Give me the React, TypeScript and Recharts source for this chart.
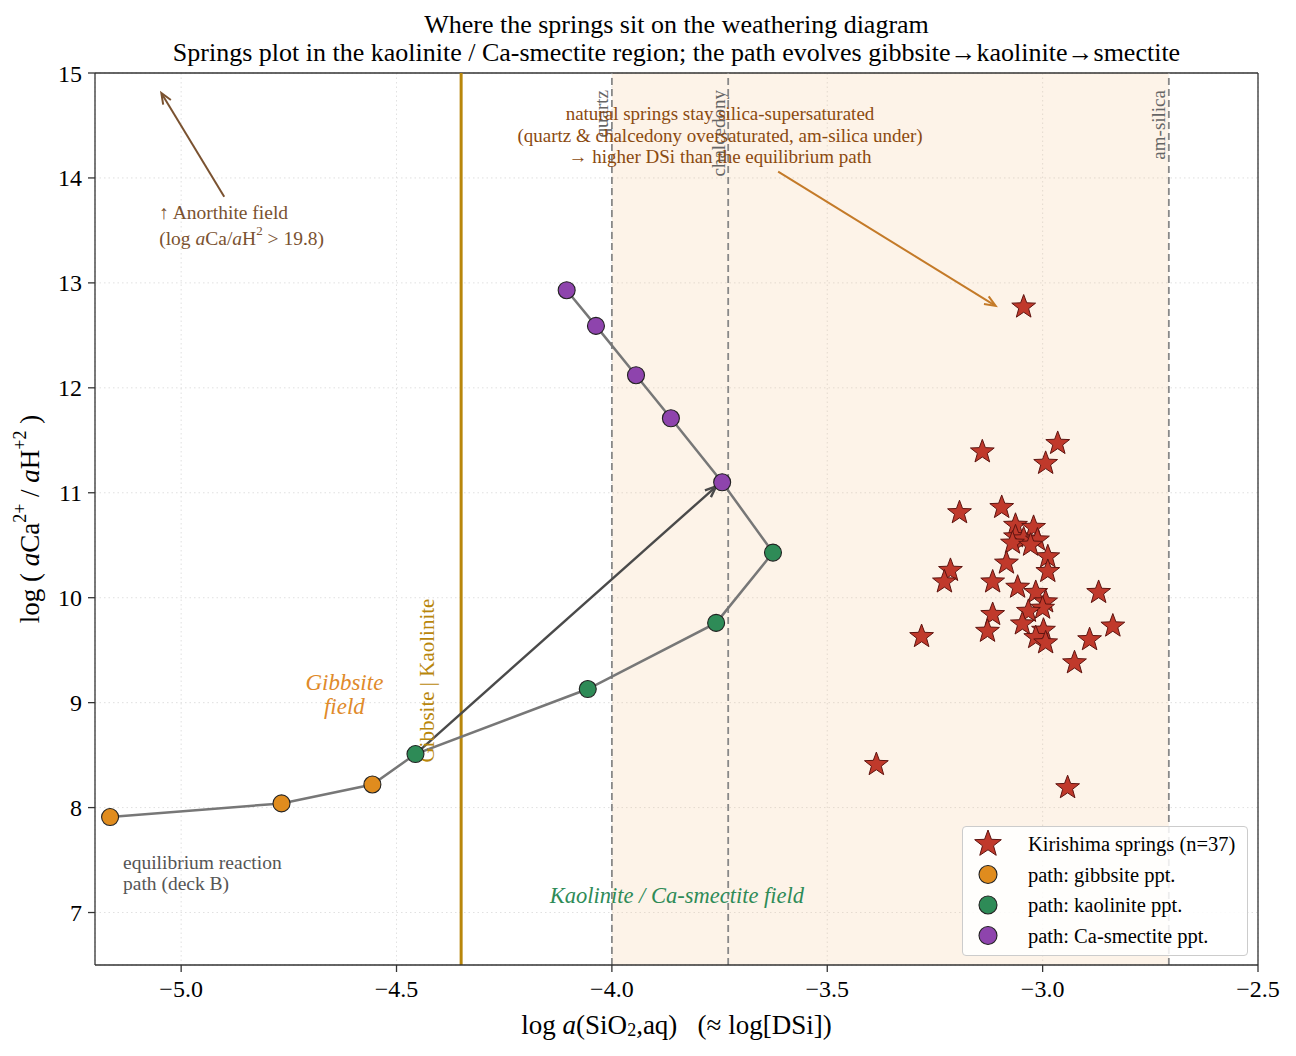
import React from 'react';
import {
  ComposedChart, Scatter, XAxis, YAxis, CartesianGrid, ReferenceLine, ReferenceArea, ReferenceDot,
} from 'recharts';

const FONT = '"Liberation Serif", "Times New Roman", serif';

// Kirishima springs
const springsX = [-3.044, -2.965, -3.140, -2.993, -3.193, -3.095, -3.063, -3.021, -3.063, -3.044, -3.012, -3.070, -3.084, -2.988, -2.988, -3.214, -3.228, -3.116, -3.058, -3.016, -2.993, -3.000, -3.033, -2.870, -3.116, -3.047, -2.837, -3.128, -2.998, -3.016, -2.993, -2.891, -3.281, -2.926, -3.386, -2.942, -3.028];
const springsY = [12.77, 11.47, 11.39, 11.28, 10.81, 10.86, 10.69, 10.67, 10.58, 10.56, 10.55, 10.52, 10.33, 10.39, 10.25, 10.26, 10.15, 10.15, 10.10, 10.05, 9.96, 9.90, 9.87, 10.05, 9.84, 9.75, 9.73, 9.68, 9.69, 9.62, 9.57, 9.60, 9.63, 9.38, 8.41, 8.19, 10.50];

// equilibrium reaction path
const gibbsiteX = [-5.165, -4.767, -4.556];
const gibbsiteY = [7.91, 8.04, 8.22];
const kaoliniteX = [-4.456, -4.056, -3.758, -3.626];
const kaoliniteY = [8.51, 9.13, 9.76, 10.43];
const smectiteX = [-3.744, -3.863, -3.944, -4.037, -4.105];
const smectiteY = [11.10, 11.71, 12.12, 12.59, 12.93];

const xTicks = [-5.0, -4.5, -4.0, -3.5, -3.0, -2.5];
const yTicks = [7, 8, 9, 10, 11, 12, 13, 14, 15];

const QUARTZ = -4.0;
const CHALCEDONY = -3.73;
const AMSILICA = -2.707;
const GIBB_KAO = -4.35;

const zip = (xs: number[], ys: number[]) => xs.map((x, i) => ({ x, y: ys[i] }));
const springs = zip(springsX, springsY);
const gibbsite = zip(gibbsiteX, gibbsiteY);
const kaolinite = zip(kaoliniteX, kaoliniteY);
const smectite = zip(smectiteX, smectiteY);
const pathAll = [...gibbsite, ...kaolinite, ...smectite];

const starPoints = (cx: number, cy: number, R: number, r: number) => {
  const pts: string[] = [];
  for (let i = 0; i < 10; i++) {
    const a = -Math.PI / 2 + (i * Math.PI) / 5;
    const rad = i % 2 === 0 ? R : r;
    pts.push(`${cx + rad * Math.cos(a)},${cy + rad * Math.sin(a)}`);
  }
  return pts.join(' ');
};

const Star = (props: any) => {
  const { cx, cy } = props;
  if (cx == null || cy == null) return null;
  return <polygon points={starPoints(cx, cy, 12.5, 5.2)} fill="#c0392b" stroke="#5e1410" strokeWidth={1} />;
};

const dotShape = (fill: string) => (props: any) => {
  const { cx, cy } = props;
  if (cx == null || cy == null) return null;
  return <circle cx={cx} cy={cy} r={8.5} fill={fill} stroke="#222" strokeWidth={1.1} />;
};

const arrowShape = (color: string, width: number) => (props: any) => {
  const { x1, y1, x2, y2 } = props;
  if (x1 == null) return null;
  const ang = Math.atan2(y2 - y1, x2 - x1);
  const L = 11, W = 4.5;
  const bx = x2 - L * Math.cos(ang), by = y2 - L * Math.sin(ang);
  const px = -Math.sin(ang), py = Math.cos(ang);
  return (
    <g>
      <line x1={x1} y1={y1} x2={x2 - 2 * Math.cos(ang)} y2={y2 - 2 * Math.sin(ang)} stroke={color} strokeWidth={width} />
      <polyline
        points={`${bx + W * px},${by + W * py} ${x2},${y2} ${bx - W * px},${by - W * py}`}
        fill="none" stroke={color} strokeWidth={width}
      />
    </g>
  );
};

const textShape = (lines: string[], opts: any) => (props: any) => {
  const { cx, cy } = props;
  if (cx == null) return null;
  const { anchor = 'middle', color = '#000', size = 16, italic = false, lh = 22, dx = 0, dy = 0 } = opts;
  return (
    <text x={cx + dx} y={cy + dy} textAnchor={anchor} fill={color} fontSize={size}
      fontStyle={italic ? 'italic' : 'normal'} fontFamily={FONT} dominantBaseline="central">
      {lines.map((l, i) => (
        <tspan key={i} x={cx + dx} dy={i === 0 ? 0 : lh}>{l}</tspan>
      ))}
    </text>
  );
};

const vTextShape = (label: string, color: string, size: number, dx: number, dy: number, anchor: string) => (props: any) => {
  const { cx, cy } = props;
  if (cx == null) return null;
  const x = cx + dx, y = cy + dy;
  return (
    <text x={x} y={y} transform={`rotate(-90 ${x} ${y})`} textAnchor={anchor} dominantBaseline="central"
      fill={color} fontSize={size} fontFamily={FONT}>{label}</text>
  );
};

const AnorthiteText = (props: any) => {
  const { cx, cy } = props;
  if (cx == null) return null;
  return (
    <text x={cx} y={cy} fill="#7a5230" fontSize={19.5} fontFamily={FONT} dominantBaseline="central">
      <tspan x={cx}>↑ Anorthite field</tspan>
      <tspan x={cx} dy={26}>(log </tspan>
      <tspan fontStyle="italic">a</tspan>
      <tspan>Ca/</tspan>
      <tspan fontStyle="italic">a</tspan>
      <tspan>H</tspan>
      <tspan fontSize={13} dy={-8}>2</tspan>
      <tspan dy={8}> &gt; 19.8)</tspan>
    </text>
  );
};

const fmtX = (v: number) => (v < 0 ? '\u2212' : '') + Math.abs(v).toFixed(1);

const legendItems = [
  { label: 'Kirishima springs (n=37)', type: 'star', color: '#c0392b' },
  { label: 'path: gibbsite ppt.', type: 'circle', color: '#e08c1e' },
  { label: 'path: kaolinite ppt.', type: 'circle', color: '#2e8b57' },
  { label: 'path: Ca-smectite ppt.', type: 'circle', color: '#8e44ad' },
];

const LegendBox = () => (
  <div style={{
    position: 'absolute', left: 954, top: 818,
    width: 286, height: 130, boxSizing: 'border-box', border: '1.3px solid #ccc', borderRadius: 4,
    background: 'rgba(255,255,255,0.85)', fontFamily: FONT,
  }}>
    <svg width={284} height={128} style={{ display: 'block' }}>
      {legendItems.map((it, i) => {
        const cy = 17 + i * 30.5;
        return (
          <g key={i}>
            {it.type === 'star'
              ? <polygon points={starPoints(25, cy, 14, 5.8)} fill="#c0392b" stroke="#5e1410" strokeWidth={1} />
              : <circle cx={25} cy={cy} r={9} fill={it.color} stroke="#222" strokeWidth={1.1} />}
            <text x={65} y={cy} dominantBaseline="central" fontSize={20.5} fontFamily={FONT} fill="#000">{it.label}</text>
          </g>
        );
      })}
    </svg>
  </div>
);

export default function App() {
  return (
    <div style={{ position: 'relative', width: 1280, height: 1040, fontFamily: FONT }}>
      <div style={{ position: 'absolute', left: 87, width: 1163, top: 3, textAlign: 'center', fontSize: 26, lineHeight: '28px', color: '#000', zIndex: 2 }}>
        <div>Where the springs sit on the weathering diagram</div>
        <div>Springs plot in the kaolinite / Ca-smectite region; the path evolves gibbsite→kaolinite→smectite</div>
      </div>
      <ComposedChart width={1280} height={1040} margin={{ top: 65, right: 30, bottom: 33, left: 27 }}>
        <ReferenceArea x1={QUARTZ} x2={AMSILICA} y1={6.5} y2={15} fill="#f5c58a" fillOpacity={0.2} stroke="none" />
        <CartesianGrid stroke="#d8d8d8" strokeDasharray="1.5 3" strokeWidth={0.8} />
        <XAxis type="number" dataKey="x" domain={[-5.2, -2.5]} ticks={xTicks} tickFormatter={fmtX}
          allowDataOverflow height={50} stroke="#333" strokeWidth={1.3}
          tick={{ fill: '#000', fontSize: 24, fontFamily: FONT }} tickSize={7} tickMargin={8}
          label={(p: any) => {
            const vb = p.viewBox;
            const cx = vb.x + vb.width / 2;
            return (
              <text x={cx} y={vb.y + 60} textAnchor="middle" fontSize={27} fontFamily={FONT} fill="#000" dominantBaseline="central">
                <tspan>log </tspan><tspan fontStyle="italic">a</tspan><tspan>(SiO</tspan>
                <tspan fontSize={18} dy={5}>2</tspan><tspan dy={-5}>{',aq)\u00a0\u00a0\u00a0(≈ log[DSi])'}</tspan>
              </text>
            );
          }} />
        <YAxis type="number" dataKey="y" domain={[6.5, 15]} ticks={yTicks} allowDataOverflow width={60}
          stroke="#333" strokeWidth={1.3} tick={{ fill: '#000', fontSize: 24, fontFamily: FONT }} tickSize={7} tickMargin={6}
          label={(p: any) => {
            const vb = p.viewBox;
            const x = 22, y = vb.y + vb.height / 2;
            return (
              <text x={x} y={y} transform={`rotate(-90 ${x} ${y})`} textAnchor="middle" fontSize={27} fontFamily={FONT} fill="#000" dominantBaseline="central">
                <tspan>log ( </tspan><tspan fontStyle="italic">a</tspan><tspan>Ca</tspan>
                <tspan fontSize={18} dy={-10}>2+</tspan><tspan dy={10}> / </tspan>
                <tspan fontStyle="italic">a</tspan><tspan>H</tspan>
                <tspan fontSize={18} dy={-10}>+2</tspan><tspan dy={10}> )</tspan>
              </text>
            );
          }} />
        <ReferenceLine y={15} stroke="#333" strokeWidth={1.3} />
        <ReferenceLine x={-2.5} stroke="#333" strokeWidth={1.3} />

        <ReferenceLine x={GIBB_KAO} stroke="#b8860b" strokeWidth={3} />
        <ReferenceLine x={QUARTZ} stroke="#888" strokeWidth={1.8} strokeDasharray="7 4" />
        <ReferenceLine x={CHALCEDONY} stroke="#888" strokeWidth={1.8} strokeDasharray="7 4" />
        <ReferenceLine x={AMSILICA} stroke="#888" strokeWidth={1.8} strokeDasharray="7 4" />

        <ReferenceDot x={QUARTZ} y={15} r={0} shape={vTextShape('quartz', '#666', 19, -10, 17, 'end')} />
        <ReferenceDot x={CHALCEDONY} y={15} r={0} shape={vTextShape('chalcedony', '#666', 19, -10, 17, 'end')} />
        <ReferenceDot x={AMSILICA} y={15} r={0} shape={vTextShape('am-silica', '#666', 19, -10, 17, 'end')} />

        <Scatter data={pathAll} line={{ stroke: '#777', strokeWidth: 2.5 }} shape={() => null} isAnimationActive={false} legendType="none" />

        <ReferenceLine segment={[{ x: -4.456, y: 8.51 }, { x: -3.758, y: 11.06 }]} shape={arrowShape('#4a4a4a', 2.4)} />
        <ReferenceLine segment={[{ x: -3.614, y: 14.06 }, { x: -3.109, y: 12.78 }]} shape={arrowShape('#c47a28', 2)} />
        <ReferenceLine segment={[{ x: -4.9, y: 13.82 }, { x: -5.046, y: 14.81 }]} shape={arrowShape('#7a5230', 2)} />

        <ReferenceDot x={-3.749} y={14.41} r={0} shape={textShape([
          'natural springs stay silica-supersaturated',
          '(quartz & chalcedony oversaturated, am-silica under)',
          '→ higher DSi than the equilibrium path',
        ], { color: '#8b4a0f', size: 19, lh: 21.5, dy: -21.5 })} />
        <ReferenceDot x={-5.051} y={13.676} r={0} shape={AnorthiteText} />
        <ReferenceDot x={-4.621} y={9.2} r={0} shape={textShape(['Gibbsite', 'field'], { color: '#e08a2a', size: 23, italic: true, lh: 24 })} />
        <ReferenceDot x={-4.43} y={9.21} r={0} shape={vTextShape('Gibbsite | Kaolinite', '#b8860b', 21, 0, 0, 'middle')} />
        <ReferenceDot x={-3.849} y={7.171} r={0} shape={textShape(['Kaolinite / Ca-smectite field'], { color: '#2e8b57', size: 22.5, italic: true })} />
        <ReferenceDot x={-5.135} y={7.486} r={0} shape={textShape(['equilibrium reaction', 'path (deck B)'], { color: '#555', size: 19.5, anchor: 'start', lh: 21 })} />

        <Scatter data={gibbsite} shape={dotShape('#e08c1e')} isAnimationActive={false} />
        <Scatter data={kaolinite} shape={dotShape('#2e8b57')} isAnimationActive={false} />
        <Scatter data={smectite} shape={dotShape('#8e44ad')} isAnimationActive={false} />
        <Scatter data={springs} shape={Star} isAnimationActive={false} />
      </ComposedChart>
      <LegendBox />
    </div>
  );
}
